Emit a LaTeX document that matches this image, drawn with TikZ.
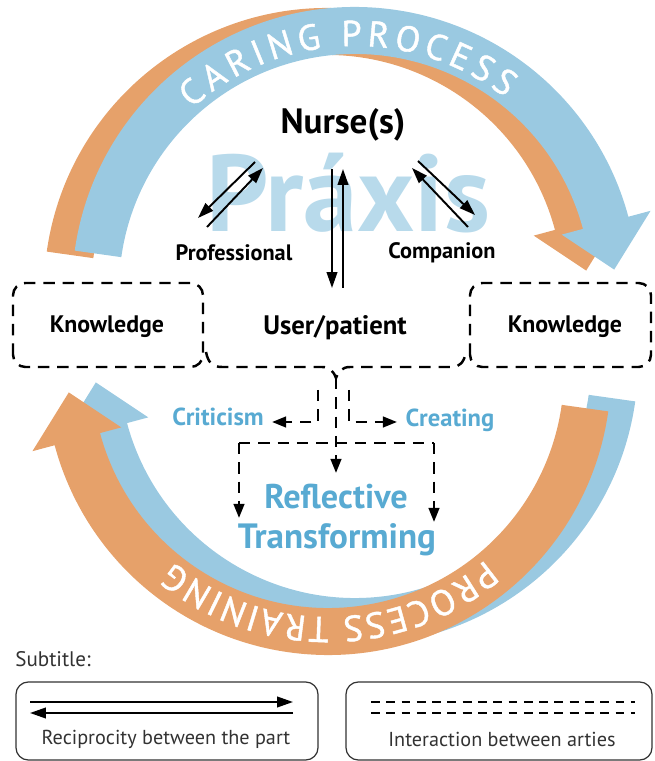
\documentclass[tikz,border=0pt]{standalone}
\usepackage{fontspec}
\setmainfont{PT Sans}
\newfontfamily\arcfamily[FakeBold=1.2]{PT Sans}
\usetikzlibrary{calc,arrows.meta,decorations.text}

\definecolor{arcblue}{RGB}{154,201,225}
\definecolor{arcorange}{RGB}{230,161,106}
\definecolor{praxisblue}{RGB}{184,218,235}
\definecolor{stepblue}{RGB}{88,170,210}
\definecolor{legendgray}{RGB}{50,50,50}

\newcommand{\arcfont}{\arcfamily\fontsize{20.5}{22}\selectfont}
% band arrow: centre, start angle, head angle, tip angle, colour
\newcommand{\bandarrow}[5]{%
  \fill[#5] ($(#1)+(#2:283)$) arc[start angle=#2, end angle=#3, radius=283]
    -- ($(#1)+(#3:306)$) -- ($(#1)+(#4:260)$) -- ($(#1)+(#3:214)$)
    -- ($(#1)+(#3:236)$) arc[start angle=#3, end angle=#2, radius=236] -- cycle;}

\tikzset{
  partlabel/.style={font=\bfseries\fontsize{12.7}{14}\selectfont, inner sep=1pt},
  steptext/.style={font=\bfseries\fontsize{14}{16}\selectfont, text=stepblue},
  bigstep/.style={font=\bfseries\fontsize{19.5}{22}\selectfont, text=stepblue},
  recip/.style={line width=1.1pt, -{Triangle[length=9pt,width=6pt]}},
  dashline/.style={line width=1.4pt, dash pattern=on 6.5pt off 4.5pt},
  interact/.style={dashline, -{Triangle[length=8pt,width=6pt]}},
  kbox/.style={dashline, rounded corners=7pt},
  legendbox/.style={draw=legendgray, line width=0.7pt, rounded corners=7pt},
  legendtext/.style={font=\fontsize{11.5}{13}\selectfont, text=legendgray},
}

\begin{document}
\begin{tikzpicture}[x=0.02cm, y=0.02cm]
  \useasboundingbox (0,0) rectangle (654,761);

  % arc centres
  \coordinate (ctopB) at (355,471);
  \coordinate (ctopO) at (327,470);
  \coordinate (cbotO) at (328,389);
  \coordinate (cbotB) at (355,399);

  % caring process
  \bandarrow{ctopO}{172}{15}{4.5}{arcorange}
  \bandarrow{ctopB}{172}{15}{4.5}{arcblue}
  \path[decorate, decoration={text along path, text align=fit to path,
      text color=white, text={|\arcfont|CARING PROCESS}}]
    ($(ctopB)+(132:244)$) arc[start angle=132, end angle=52, radius=244];

  % training process
  \bandarrow{cbotB}{-8}{-165}{-175.5}{arcblue}
  \bandarrow{cbotO}{-8}{-165}{-175.5}{arcorange}
  \path[decorate, decoration={text along path, text align=fit to path,
      text color=white, text={|\arcfont|PROCESS TRAINING}}]
    ($(cbotO)+(-50:245)$) arc[start angle=-50, end angle=-129, radius=245];

  % praxis
  \node[font=\bfseries\fontsize{62}{64}\selectfont, text=praxisblue, anchor=base, inner sep=0pt]
    (praxis) at (348,529) {Práxis};
  \node[font=\bfseries\fontsize{20}{22}\selectfont] (nurse) at (343,636) {Nurse(s)};
  \node[partlabel] (prof) at (234,508) {Professional};
  \node[partlabel] (comp) at (442,508) {Companion};
  \node[font=\bfseries\fontsize{15.2}{17}\selectfont] (user) at (335,433) {User/patient};

  % reciprocity arrows
  \coordinate (profA) at (255,599);
  \coordinate (profB) at (198,543);
  \coordinate (profC) at (207,534);
  \coordinate (profD) at (263,593);
  \coordinate (compA) at (418,600);
  \coordinate (compB) at (475,546);
  \coordinate (compC) at (468,534);
  \coordinate (compD) at (412,593);
  \coordinate (userA) at (332,592);
  \coordinate (userB) at (332,473);
  \coordinate (userC) at (343,473);
  \coordinate (userD) at (343,592);
  \draw[recip] (profA) -- (profB);
  \draw[recip] (profC) -- (profD);
  \draw[recip] (compA) -- (compB);
  \draw[recip] (compC) -- (compD);
  \draw[recip] (userA) -- (userB);
  \draw[recip] (userC) -- (userD);

  % knowledge
  \draw[kbox] (13,394) rectangle (203,478);
  \draw[kbox] (470,394) rectangle (651,478);
  \node[partlabel, font=\bfseries\fontsize{13.6}{15}\selectfont] (knowL) at (107,434) {Knowledge};
  \node[partlabel, font=\bfseries\fontsize{13.6}{15}\selectfont] (knowR) at (565,434) {Knowledge};

  % brace under user/patient
  \coordinate (tip) at (336,383);
  \draw[dashline] (206,409) .. controls (208,399) and (212,394) .. (222,394)
    -- (322,394) .. controls (330,394) and (334,389) .. (tip)
    .. controls (338,389) and (342,394) .. (350,394)
    -- (452,394) .. controls (460,394) and (464,399) .. (466,409);

  % criticism / creating / reflective transforming
  \node[steptext] (crit) at (218,344) {Criticism};
  \node[steptext] (creat) at (450,341) {Creating};
  \node[bigstep] (refl) at (336,264) {Reflective};
  \node[bigstep, font=\bfseries\fontsize{20}{22}\selectfont] (trans) at (337,221) {Transforming};

  \coordinate (tipL) at (318,371);
  \coordinate (tipR) at (349,371);
  \coordinate (critIn) at (272,339);
  \coordinate (creatIn) at (397,339);
  \coordinate (barL) at (239,318);
  \coordinate (barR) at (434,318);
  \coordinate (reflL) at (239,243);
  \coordinate (reflR) at (434,239);
  \coordinate (reflIn) at (336,288);
  \draw[interact] (tipL) |- (critIn);
  \draw[interact] (tipR) |- (creatIn);
  \draw[interact] (tip) -- (reflIn);
  \draw[dashline] (barL) -- (barR);
  \draw[interact] (barL) -- (reflL);
  \draw[interact] (barR) -- (reflR);

  % subtitle
  \node[anchor=base west, inner sep=0pt, font=\fontsize{12}{14}\selectfont, text=legendgray]
    (subtitle) at (15,94) {Subtitle:};
  \draw[legendbox] (16,1) rectangle (318,79);
  \draw[legendbox] (346,1) rectangle (652,79);
  \coordinate (legA) at (30,59);
  \coordinate (legB) at (293,59);
  \coordinate (legC) at (293,48);
  \coordinate (legD) at (30,48);
  \draw[recip] (legA) -- (legB);
  \draw[recip] (legC) -- (legD);
  \coordinate (legE) at (371,59);
  \coordinate (legF) at (635,59);
  \coordinate (legG) at (371,48);
  \coordinate (legH) at (635,48);
  \draw[line width=1.1pt, dash pattern=on 5pt off 3.7pt] (legE) -- (legF);
  \draw[line width=1.1pt, dash pattern=on 5pt off 3.7pt] (legG) -- (legH);
  \node[legendtext] (recipText) at (166,22) {Reciprocity between the part};
  \node[legendtext] (interText) at (502,22) {Interaction between arties};
\end{tikzpicture}
\end{document}
